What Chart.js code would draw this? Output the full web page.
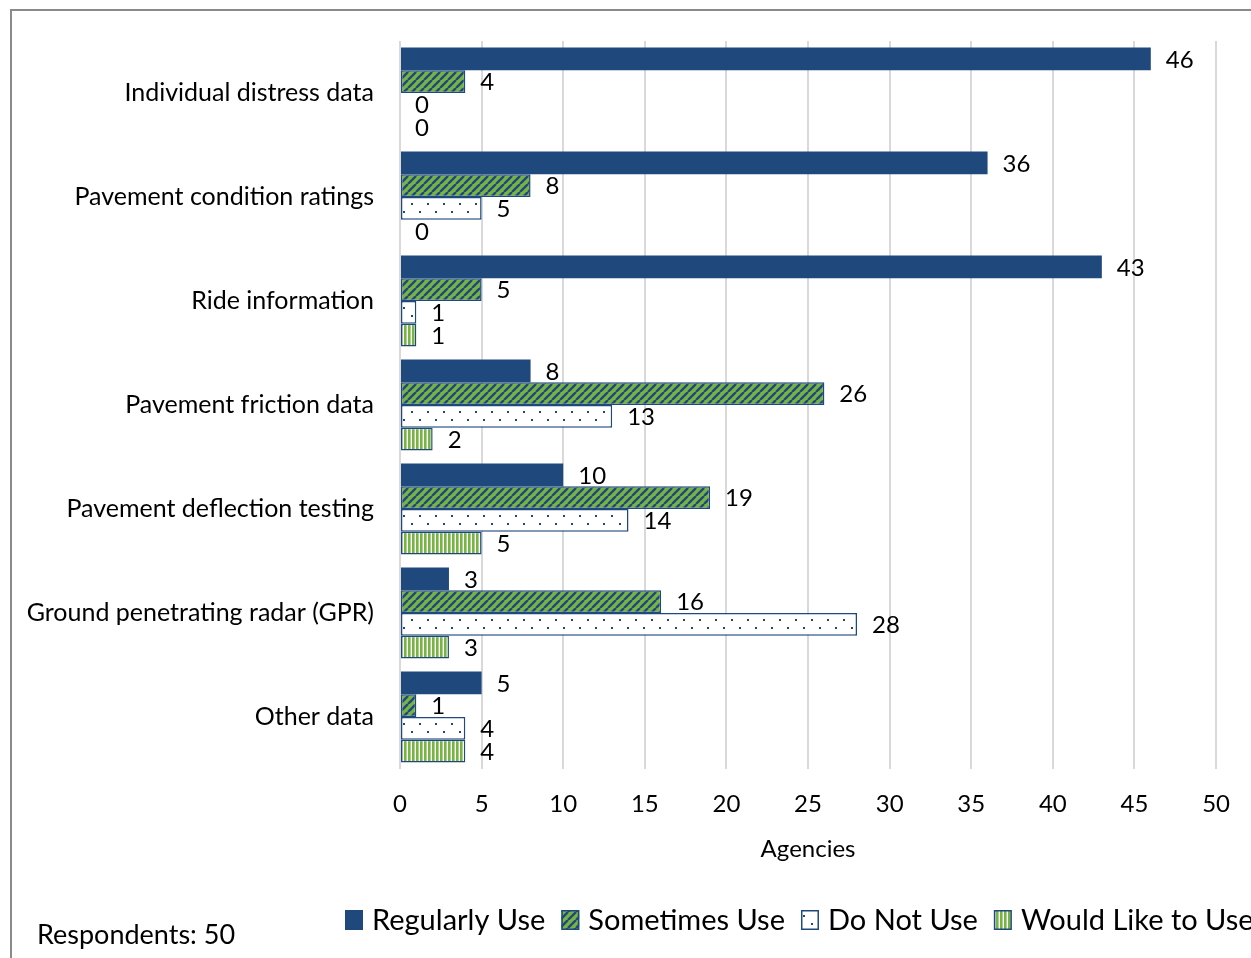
<!DOCTYPE html>
<html>
<head>
<meta charset="utf-8">
<script src="https://cdn.jsdelivr.net/npm/chart.js@4.4.1/dist/chart.umd.min.js"></script>
<style>
  html, body { margin: 0; padding: 0; background: #fff; overflow: hidden; }
  #frame { position: absolute; left: 10px; top: 9px; width: 1400px; height: 1100px; border: 2px solid #8a8a8a; box-sizing: border-box; }
  #wrap { position: absolute; left: 0; top: 0; width: 1251px; height: 958px; }
  #note { position: absolute; left: 37px; top: 917px; font: 27px Lato, sans-serif; color: #000; }
</style>
</head>
<body>
<div id="frame"></div>
<div id="wrap"><canvas id="chart" width="1251" height="958"></canvas></div>
<div id="note">Respondents: 50</div>
<script>
const categories = ["Individual distress data", "Pavement condition ratings", "Ride information",
  "Pavement friction data", "Pavement deflection testing", "Ground penetrating radar (GPR)", "Other data"];
const seriesNames = ["Regularly Use", "Sometimes Use", "Do Not Use", "Would Like to Use"];
const regularlyUse = [46, 36, 43, 8, 10, 3, 5];
const sometimesUse = [4, 8, 5, 26, 19, 16, 1];
const doNotUse = [0, 5, 1, 13, 14, 28, 4];
const wouldLikeToUse = [0, 0, 1, 2, 5, 3, 4];
const xTicks = [0, 5, 10, 15, 20, 25, 30, 35, 40, 45, 50];

const BLUE = "#1f497d";
const GREEN = "#78b443";
const FONT = "Lato, sans-serif";

function makePattern(w, h, draw) {
  const c = document.createElement("canvas");
  c.width = w; c.height = h;
  const g = c.getContext("2d");
  draw(g, w, h);
  return g.createPattern(c, "repeat");
}

// wide upward diagonal: blue stripes on green
const diagPattern = makePattern(8, 8, (g, w, h) => {
  g.fillStyle = GREEN;
  g.fillRect(0, 0, w, h);
  g.strokeStyle = BLUE;
  g.lineWidth = 2.4;
  g.beginPath();
  for (let k = -1; k <= 1; k++) {
    g.moveTo(k * w, h);
    g.lineTo(k * w + w, 0);
  }
  g.stroke();
});

// small dots on white
const dotPattern = makePattern(16, 16, (g, w, h) => {
  g.fillStyle = "#fff";
  g.fillRect(0, 0, w, h);
  g.fillStyle = BLUE;
  g.fillRect(3, 3, 2, 2);
  g.fillRect(11, 11, 2, 2);
});

// vertical stripes: green with white
const vertPattern = makePattern(4, 4, (g, w, h) => {
  g.fillStyle = "#fff";
  g.fillRect(0, 0, w, h);
  g.fillStyle = GREEN;
  g.fillRect(0, 0, 2.6, h);
});

const fills = [BLUE, diagPattern, dotPattern, vertPattern];
const seriesData = [regularlyUse, sometimesUse, doNotUse, wouldLikeToUse];

const valueLabels = {
  id: "valueLabels",
  afterDatasetsDraw(chart) {
    const ctx = chart.ctx;
    ctx.save();
    ctx.font = "24px " + FONT;
    ctx.fillStyle = "#000";
    ctx.textBaseline = "middle";
    ctx.textAlign = "left";
    chart.data.datasets.forEach((ds, i) => {
      chart.getDatasetMeta(i).data.forEach((bar, j) => {
        ctx.fillText(String(ds.data[j]), bar.x + 15, bar.y + 1);
      });
    });
    ctx.restore();
  }
};

const customLegend = {
  id: "customLegend",
  afterDraw(chart) {
    const ctx = chart.ctx;
    ctx.save();
    ctx.font = "29px " + FONT;
    ctx.textBaseline = "middle";
    let x = 345;
    const y = 920;
    chart.data.datasets.forEach((ds) => {
      ctx.fillStyle = ds.backgroundColor;
      ctx.fillRect(x, y - 10, 18, 20);
      ctx.strokeStyle = BLUE;
      ctx.lineWidth = 1.5;
      ctx.strokeRect(x + 0.75, y - 9.25, 16.5, 18.5);
      ctx.fillStyle = "#000";
      ctx.fillText(ds.label, x + 27, y + 1);
      x += 27 + ctx.measureText(ds.label).width + 16;
    });
    ctx.restore();
  }
};

new Chart(document.getElementById("chart").getContext("2d"), {
  type: "bar",
  data: {
    labels: categories,
    datasets: seriesNames.map((name, i) => ({
      label: name,
      data: seriesData[i],
      backgroundColor: fills[i],
      borderColor: BLUE,
      borderWidth: i === 0 ? 0 : 1.5,
      borderSkipped: false,
      categoryPercentage: 0.875,
      barPercentage: 1.0
    }))
  },
  options: {
    indexAxis: "y",
    responsive: false,
    animation: false,
    devicePixelRatio: 1,
    layout: { padding: { top: 38, right: 32, bottom: 90, left: 0 } },
    plugins: { legend: { display: false }, tooltip: { enabled: false } },
    scales: {
      x: {
        min: 0,
        max: 50,
        afterBuildTicks: (scale) => { scale.ticks = xTicks.map(v => ({ value: v })); },
        grid: { color: "#d9d9d9", lineWidth: 2, drawTicks: false },
        border: { display: false },
        ticks: { color: "#000", font: { family: FONT, size: 24 }, padding: 21 },
        title: { display: true, text: "Agencies", color: "#000", font: { family: FONT, size: 24 }, padding: { top: 2 } },
        afterFit: (scale) => { scale.height = 958 - 769 - 90; }
      },
      y: {
        grid: { display: false, drawTicks: false },
        border: { display: false },
        ticks: { color: "#000", font: { family: FONT, size: 25 }, padding: 26 },
        afterFit: (scale) => { scale.width = 400; }
      }
    }
  },
  plugins: [valueLabels, customLegend]
});
</script>
</body>
</html>
